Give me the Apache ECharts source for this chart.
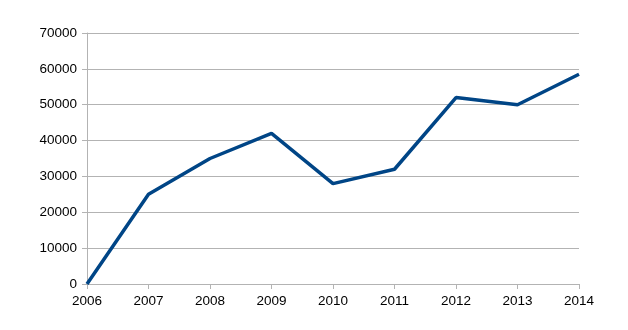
<!DOCTYPE html>
<html lang="en">
<head>
    <meta charset="UTF-8">
    <title>Chart</title>
    <script src="https://cdn.jsdelivr.net/npm/echarts@6/dist/echarts.min.js"></script>
    <style>
        html, body { margin: 0; padding: 0; background: #fff; }
        #chart { width: 628px; height: 330px; }
    </style>
</head>
<body>
    <div id="chart"></div>
    <script>
        var years = ['2006', '2007', '2008', '2009', '2010', '2011', '2012', '2013', '2014'];
        var values = [0, 25000, 35000, 42000, 28000, 32000, 52000, 50000, 58500];

        var chart = echarts.init(document.getElementById('chart'));
        var option = {
            animation: false,
            grid: { left: 87, right: 49, top: 33, bottom: 46 },
            xAxis: {
                type: 'category',
                data: years,
                boundaryGap: false,
                axisLine: { lineStyle: { color: '#b3b3b3', width: 1 } },
                axisTick: { show: true, length: 5, lineStyle: { color: '#b3b3b3' } },
                axisLabel: { color: '#000', fontFamily: 'Liberation Sans', fontSize: 13.5, margin: 10 },
                splitLine: { show: false }
            },
            yAxis: {
                type: 'value',
                min: 0,
                max: 70000,
                interval: 10000,
                axisLine: { show: true, lineStyle: { color: '#b3b3b3', width: 1 } },
                axisTick: { show: true, length: 5, lineStyle: { color: '#b3b3b3' } },
                axisLabel: {
                    color: '#000', fontFamily: 'Liberation Sans', fontSize: 13.5, margin: 10,
                    formatter: function (v) { return String(v); }
                },
                splitLine: { show: true, lineStyle: { color: '#b3b3b3', width: 1 } }
            },
            series: [{
                type: 'line',
                data: values,
                symbol: 'none',
                lineStyle: { color: '#004586', width: 3.5 }
            }]
        };
        chart.setOption(option);
    </script>
</body>
</html>
